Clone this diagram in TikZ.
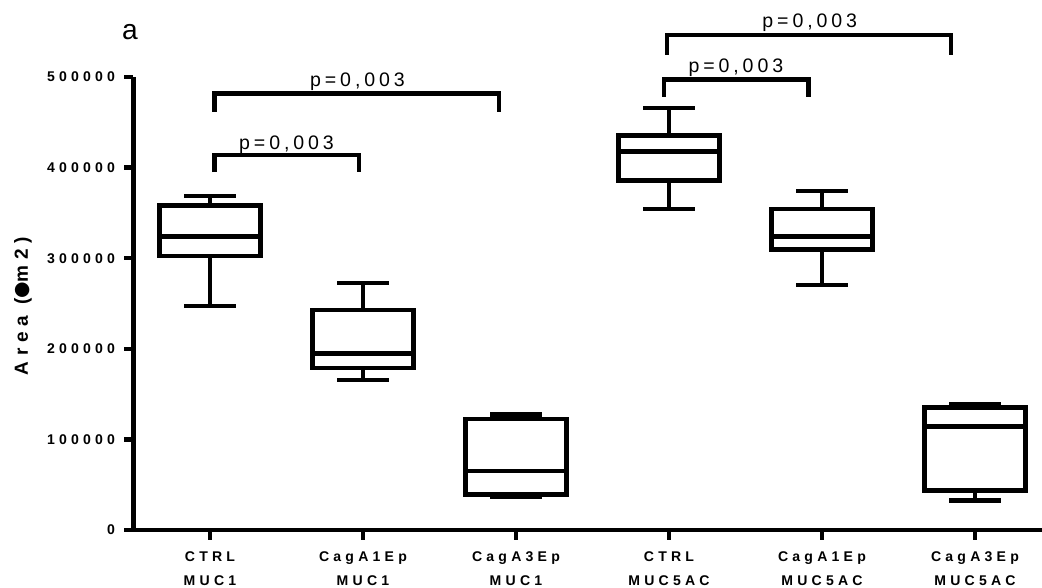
\documentclass[tikz,border=0pt]{standalone}
\usepackage{fontspec}
\setmainfont{Liberation Sans}
\newfontfamily\spacedfont[LetterSpace=30]{Liberation Sans Bold}
\newfontfamily\pvalfont[LetterSpace=20]{Liberation Sans}
\newfontfamily\symbfont{DejaVu Sans Bold}

\begin{document}
\begin{tikzpicture}[x=3.825cm,y=2.265cm]

\tikzset{boxline/.style={line width=3.2pt},}
\tikzset{axisline/.style={line width=3.2pt},}
\tikzset{ticklab/.style={font=\spacedfont\fontsize{10}{11}\selectfont,anchor=east,inner sep=0pt},}
\tikzset{grouplab/.style={font=\spacedfont\fontsize{10}{17}\selectfont,align=center,inner sep=0pt},}
\tikzset{pval/.style={font=\pvalfont\fontsize{13.9}{15}\selectfont,anchor=base,inner sep=0pt},}

\useasboundingbox (-0.8725,-0.6402) rectangle (5.938,5.8499);

%AXES
\draw[axisline] (0,5) -- (0,0) -- (6,0);
\draw[axisline] (0,0) -- (-0.06,0) node [ticklab,xshift=-5pt] (y0) {0};
\draw[axisline] (0,1) -- (-0.06,1) node [ticklab,xshift=-5pt] (y1) {100000};
\draw[axisline] (0,2) -- (-0.06,2) node [ticklab,xshift=-5pt] (y2) {200000};
\draw[axisline] (0,3) -- (-0.06,3) node [ticklab,xshift=-5pt] (y3) {300000};
\draw[axisline] (0,4) -- (-0.06,4) node [ticklab,xshift=-5pt] (y4) {400000};
\draw[axisline] (0,5) -- (-0.06,5) node [ticklab,xshift=-5pt] (y5) {500000};
\draw (-0.722,2.472) node [rotate=90,font=\spacedfont\fontsize{13.5}{15}\selectfont] (ytitle) {Area ({\symbfont ●}m2)};
\draw (-0.023,5.419) node [anchor=base,font=\fontsize{20}{22}\selectfont] (panel) {a};

%CTRL MUC1
\draw[axisline] (0.5,0) -- (0.5,-0.11);
\draw (0.5,-0.43) node [grouplab] (ctrl1) {CTRL\\MUC1};
\draw[boxline] (0.17,3.024) rectangle (0.83,3.582);
\draw[boxline] (0.17,3.240) -- (0.83,3.240);
\draw[boxline] (0.5,3.582) -- (0.5,3.687) (0.333,3.687) -- (0.667,3.687);
\draw[boxline] (0.5,3.024) -- (0.5,2.472) (0.333,2.472) -- (0.667,2.472);

%CAGA1EP MUC1
\draw[axisline] (1.5,0) -- (1.5,-0.11);
\draw (1.5,-0.43) node [grouplab] (cagone1) {CagA1Ep\\MUC1};
\draw[boxline] (1.17,1.788) rectangle (1.83,2.428);
\draw[boxline] (1.17,1.948) -- (1.83,1.948);
\draw[boxline] (1.5,2.428) -- (1.5,2.726) (1.333,2.726) -- (1.667,2.726);
\draw[boxline] (1.5,1.788) -- (1.5,1.656) (1.333,1.656) -- (1.667,1.656);

%CAGA3EP MUC1
\draw[axisline] (2.5,0) -- (2.5,-0.11);
\draw (2.5,-0.43) node [grouplab] (cagthree1) {CagA3Ep\\MUC1};
\draw[boxline] (2.17,0.392) rectangle (2.83,1.225);
\draw[boxline] (2.17,0.651) -- (2.83,0.651);
\draw[boxline] (2.5,1.225) -- (2.5,1.275) (2.333,1.275) -- (2.667,1.275);
\draw[boxline] (2.5,0.392) -- (2.5,0.370) (2.333,0.370) -- (2.667,0.370);

%CTRL MUC5AC
\draw[axisline] (3.5,0) -- (3.5,-0.11);
\draw (3.5,-0.43) node [grouplab] (ctrl5) {CTRL\\MUC5AC};
\draw[boxline] (3.17,3.858) rectangle (3.83,4.354);
\draw[boxline] (3.17,4.178) -- (3.83,4.178);
\draw[boxline] (3.5,4.354) -- (3.5,4.658) (3.333,4.658) -- (3.667,4.658);
\draw[boxline] (3.5,3.858) -- (3.5,3.543) (3.333,3.543) -- (3.667,3.543);

%CAGA1EP MUC5AC
\draw[axisline] (4.5,0) -- (4.5,-0.11);
\draw (4.5,-0.43) node [grouplab] (cagone5) {CagA1Ep\\MUC5AC};
\draw[boxline] (4.17,3.096) rectangle (4.83,3.543);
\draw[boxline] (4.17,3.240) -- (4.83,3.240);
\draw[boxline] (4.5,3.543) -- (4.5,3.742) (4.333,3.742) -- (4.667,3.742);
\draw[boxline] (4.5,3.096) -- (4.5,2.704) (4.333,2.704) -- (4.667,2.704);

%CAGA3EP MUC5AC
\draw[axisline] (5.5,0) -- (5.5,-0.11);
\draw (5.5,-0.43) node [grouplab] (cagthree5) {CagA3Ep\\MUC5AC};
\draw[boxline] (5.17,0.436) rectangle (5.83,1.352);
\draw[boxline] (5.17,1.142) -- (5.83,1.142);
\draw[boxline] (5.5,1.352) -- (5.5,1.385) (5.333,1.385) -- (5.667,1.385);
\draw[boxline] (5.5,0.436) -- (5.5,0.326) (5.333,0.326) -- (5.667,0.326);

%P VALUES
\draw[boxline] (0.53,3.951) -- (0.53,4.139) -- (1.473,4.139) -- (1.473,3.951);
\draw (1.0,4.195) node [pval] (p1) {p=0,003};
\draw[boxline] (0.53,4.617) -- (0.53,4.818) -- (2.39,4.818) -- (2.39,4.617);
\draw (1.464,4.9) node [pval] (p2) {p=0,003};
\draw[boxline] (3.467,4.783) -- (3.467,4.972) -- (4.412,4.972) -- (4.412,4.783);
\draw (3.937,5.055) node [pval] (p3) {p=0,003};
\draw[boxline] (3.487,5.243) -- (3.487,5.464) -- (5.343,5.464) -- (5.343,5.243);
\draw (4.42,5.547) node [pval] (p4) {p=0,003};

\end{tikzpicture}
\end{document}
